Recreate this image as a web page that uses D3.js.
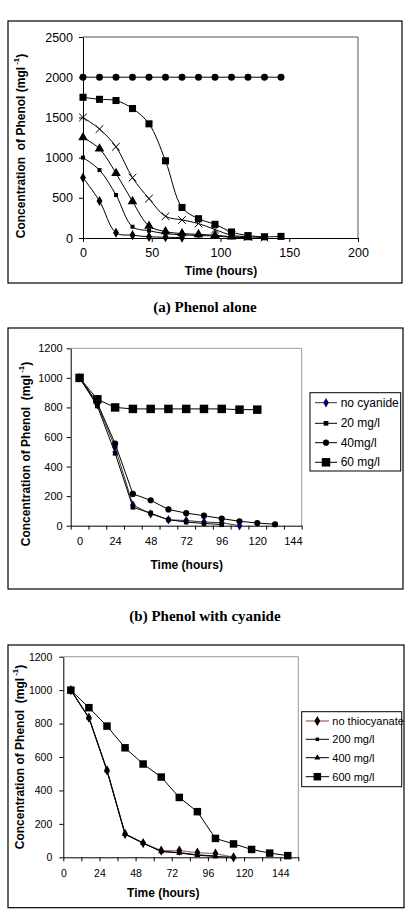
<!DOCTYPE html>
<html>
<head>
<meta charset="utf-8">
<script src="https://cdn.jsdelivr.net/npm/d3@7"></script>
<style>
  body { margin: 0; background: #fff; }
  svg { display: block; }
</style>
</head>
<body>
<script>
// ---- data: (a) phenol alone, sampled every 12 h
const timesA = [0, 12, 24, 36, 48, 60, 72, 84, 96, 108, 120, 132, 144];
const phenol2000 = [2000, 2000, 2000, 2000, 2000, 2000, 2000, 2000, 2000, 2000, 2000, 2000, 2000];
const phenol1750 = [1750, 1725, 1710, 1610, 1420, 960, 380, 240, 170, 75, 30, 15, 20];
const phenol1500 = [1500, 1355, 1135, 750, 490, 270, 225, 180, 105, 35, 15, 5];
const phenol1250 = [1250, 1110, 805, 455, 150, 80, 55, 45, 35, 15, 5];
const phenol1000 = [1000, 845, 535, 140, 90, 55, 40, 30, 25, 10, 5];
const phenol750 = [750, 460, 65, 35, 15, 10, 5];

// ---- data: (b) phenol with cyanide
const timesB = [0, 12, 24, 36, 48, 60, 72, 84, 96, 108, 120, 132];
const noCyanide = [1000, 820, 530, 140, 80, 40, 35, 25, 20, 0];
const cyanide20 = [1000, 810, 490, 125, 85, 40, 25, 15, 8];
const cyanide40 = [1000, 830, 555, 215, 172, 110, 85, 68, 48, 30, 18, 10];
const cyanide60 = [1000, 855, 800, 790, 790, 790, 790, 790, 790, 785, 785];

// ---- data: (c) phenol with thiocyanate
const timesC = [5, 17, 29, 41, 53, 65, 77, 89, 101, 113, 125, 137, 149];
const noThiocyanate = [1000, 835, 520, 140, 85, 40, 40, 28, 22, 0];
const thio200 = [1000, 835, 520, 140, 85, 35, 28, 15, 8];
const thio400 = [1000, 835, 520, 138, 85, 35, 26, 12, 5, 0];
const thio600 = [1000, 895, 785, 655, 558, 480, 358, 273, 113, 80, 47, 25, 10];

const ticksA_y = [0, 500, 1000, 1500, 2000, 2500];
const ticksA_x = [0, 50, 100, 150, 200];
const ticksBC_y = [0, 200, 400, 600, 800, 1000, 1200];
const labelsBC_x = [0, 24, 48, 72, 96, 120, 144];

const FONT = "'Liberation Sans', Arial, sans-serif";
const svg = d3.select("body").append("svg").attr("width", 408).attr("height", 924);

// simple "x" shape for the 1500 series
const timesSymbol = d3.symbolTimes || {
  draw(ctx, size) {
    const r = Math.sqrt(size) / 2;
    ctx.moveTo(-r, -r); ctx.lineTo(r, r);
    ctx.moveTo(r, -r); ctx.lineTo(-r, r);
  }
};

function drawPanel(p) {
  const g = svg.append("g");

  g.append("rect")
    .attr("x", p.frame[0]).attr("y", p.frame[1])
    .attr("width", p.frame[2] - p.frame[0]).attr("height", p.frame[3] - p.frame[1])
    .attr("fill", "none").attr("stroke", "#000").attr("stroke-width", 1.2);

  const x = d3.scaleLinear().domain(p.xDomain).range([p.left, p.right]);
  const y = d3.scaleLinear().domain(p.yDomain).range([p.bottom, p.top]);

  // top + right border of plot area
  g.append("path")
    .attr("d", `M${p.left},${p.top}H${p.right}V${p.bottom}`)
    .attr("fill", "none").attr("stroke", p.borderColor).attr("stroke-width", 1);

  // Y axis
  const yAxis = g.append("g")
    .attr("transform", `translate(${p.left},0)`)
    .call(d3.axisLeft(y).tickValues(p.yTicks).tickFormat(d3.format("d"))
      .tickSize(4).tickSizeOuter(0).tickPadding(p.yPad));
  yAxis.selectAll("text").attr("font-family", FONT).attr("font-size", p.tickFont).attr("fill", "#000");

  // X axis tick marks
  g.append("g")
    .attr("transform", `translate(0,${p.bottom})`)
    .call(d3.axisBottom(x).tickValues(p.xMarks).tickSize(4).tickSizeOuter(0).tickFormat(""));
  // X axis labels
  const xLab = g.append("g")
    .attr("transform", `translate(0,${p.bottom})`)
    .call(d3.axisBottom(x).tickValues(p.xLabels).tickFormat(d3.format("d")).tickSize(0).tickPadding(p.xPad));
  xLab.select(".domain").remove();
  xLab.selectAll("text").attr("font-family", FONT).attr("font-size", p.tickFont).attr("fill", "#000");
  g.selectAll(".domain, .tick line").attr("stroke", "#000");

  // axis titles
  g.append("text")
    .attr("x", p.xTitle[0]).attr("y", p.xTitle[1])
    .attr("text-anchor", "middle").attr("dominant-baseline", "central")
    .attr("font-family", FONT).attr("font-weight", "bold").attr("font-size", p.titleFont)
    .text("Time (hours)");

  const yt = g.append("text")
    .attr("transform", `translate(${p.yTitle[0]},${p.yTitle[1]}) rotate(-90)`)
    .attr("text-anchor", "middle").attr("dominant-baseline", "central")
    .attr("font-family", FONT).attr("font-weight", "bold").attr("font-size", p.titleFont)
    .style("white-space", "pre");
  yt.append("tspan").text(p.yTitleText);
  yt.append("tspan").attr("baseline-shift", "super").attr("font-size", p.titleFont * 0.65).text(" -1");
  yt.append("tspan").text(")");

  // series
  p.series.forEach(s => {
    const pts = s.values.map((v, i) => [s.times[i], v]);
    g.append("path")
      .datum(pts)
      .attr("fill", "none")
      .attr("stroke", s.line || "#000")
      .attr("stroke-width", s.width || 1)
      .attr("d", d3.line().x(d => x(d[0])).y(d => y(d[1])).curve(p.curve));

    g.selectAll(null)
      .data(pts)
      .enter()
      .append("path")
        .attr("transform", d => `translate(${x(d[0])},${y(d[1])})`)
        .attr("d", d3.symbol().type(s.symbol).size(s.size))
        .attr("fill", s.stroke ? "none" : (s.fill || "#000"))
        .attr("stroke", s.stroke ? "#000" : "none")
        .attr("stroke-width", 1);
  });

  // legend
  if (p.legend) {
    const L = p.legend;
    g.append("rect")
      .attr("x", L.box[0]).attr("y", L.box[1])
      .attr("width", L.box[2] - L.box[0]).attr("height", L.box[3] - L.box[1])
      .attr("fill", "#fff").attr("stroke", "#000").attr("stroke-width", 1);
    p.series.forEach((s, i) => {
      const cy = L.rows[i];
      g.append("line")
        .attr("x1", L.line[0]).attr("x2", L.line[1]).attr("y1", cy).attr("y2", cy)
        .attr("stroke", s.line || "#000").attr("stroke-width", s.width || 1);
      g.append("path")
        .attr("transform", `translate(${(L.line[0] + L.line[1]) / 2},${cy})`)
        .attr("d", d3.symbol().type(s.symbol).size(s.size))
        .attr("fill", s.fill || "#000");
      g.append("text")
        .attr("x", L.textX).attr("y", cy)
        .attr("dominant-baseline", "central")
        .attr("font-family", FONT).attr("font-size", L.font)
        .text(s.name);
    });
  }
}

function caption(text, cy) {
  svg.append("text")
    .attr("x", 205).attr("y", cy)
    .attr("text-anchor", "middle").attr("dominant-baseline", "central")
    .attr("font-family", "'Liberation Serif', 'Times New Roman', serif")
    .attr("font-weight", "bold").attr("font-size", 15)
    .text(text);
}

// (a)
drawPanel({
  frame: [8, 21, 402, 283],
  left: 83, right: 358, top: 37, bottom: 238,
  xDomain: [0, 200], yDomain: [0, 2500],
  yTicks: ticksA_y, xMarks: ticksA_x, xLabels: ticksA_x,
  tickFont: 12.5, titleFont: 12, yPad: 6, xPad: 10,
  borderColor: "#555",
  xTitle: [221, 271], yTitle: [21, 146],
  yTitleText: "Concentration  of Phenol (mgl",
  curve: d3.curveCatmullRom,
  series: [
    {times: timesA, values: phenol2000, symbol: d3.symbolCircle, size: 38},
    {times: timesA, values: phenol1750, symbol: d3.symbolSquare, size: 50},
    {times: timesA, values: phenol1500, symbol: timesSymbol, size: 40, stroke: true},
    {times: timesA, values: phenol1250, symbol: d3.symbolTriangle, size: 40},
    {times: timesA, values: phenol1000, symbol: d3.symbolSquare, size: 16},
    {times: timesA, values: phenol750, symbol: d3.symbolDiamond, size: 30}
  ]
});
caption("(a) Phenol alone", 307);

// (b)
drawPanel({
  frame: [8, 328, 403, 589],
  left: 70.7, right: 301.7, top: 348.3, bottom: 525.7,
  xDomain: [-6, 150], yDomain: [0, 1200],
  yTicks: ticksBC_y, xMarks: d3.range(-6, 151, 12), xLabels: labelsBC_x,
  tickFont: 11, titleFont: 12, yPad: 4, xPad: 12,
  borderColor: "#999",
  xTitle: [186.7, 565], yTitle: [26, 454],
  yTitleText: "Concentration of Phenol  (mgl",
  curve: d3.curveLinear,
  series: [
    {name: "no cyanide", times: timesB, values: noCyanide, symbol: d3.symbolDiamond, size: 26, fill: "#000066", line: "#333"},
    {name: "20 mg/l", times: timesB, values: cyanide20, symbol: d3.symbolSquare, size: 22},
    {name: "40mg/l", times: timesB, values: cyanide40, symbol: d3.symbolCircle, size: 30},
    {name: "60 mg/l", times: timesB, values: cyanide60, symbol: d3.symbolSquare, size: 72}
  ],
  legend: {
    box: [310, 392.7, 400.7, 471],
    rows: [402.7, 423.3, 442.7, 462.3],
    line: [315, 337], textX: 340.7, font: 12
  }
});
caption("(b) Phenol with cyanide", 616);

// (c)
drawPanel({
  frame: [8, 645, 404, 907.7],
  left: 63.3, right: 298.3, top: 656.7, bottom: 857.3,
  xDomain: [0, 156], yDomain: [0, 1200],
  yTicks: ticksBC_y, xMarks: d3.range(0, 157, 12), xLabels: labelsBC_x,
  tickFont: 10.5, titleFont: 12, yPad: 7, xPad: 12,
  borderColor: "#999",
  xTitle: [163.3, 892.7], yTitle: [20, 757],
  yTitleText: "Concentration of Phenol  (mgl",
  curve: d3.curveLinear,
  series: [
    {name: "no thiocyanate", times: timesC, values: noThiocyanate, symbol: d3.symbolDiamond, size: 30, line: "#a87c66", width: 1.4},
    {name: "200 mg/l", times: timesC, values: thio200, symbol: d3.symbolSquare, size: 12},
    {name: "400 mg/l", times: timesC, values: thio400, symbol: d3.symbolTriangle, size: 16},
    {name: "600 mg/l", times: timesC, values: thio600, symbol: d3.symbolSquare, size: 56}
  ],
  legend: {
    box: [301.7, 711.7, 401.7, 786.7],
    rows: [721, 739.3, 757.7, 776.7],
    line: [305.7, 329], textX: 332.3, font: 11
  }
});
</script>
</body>
</html>
